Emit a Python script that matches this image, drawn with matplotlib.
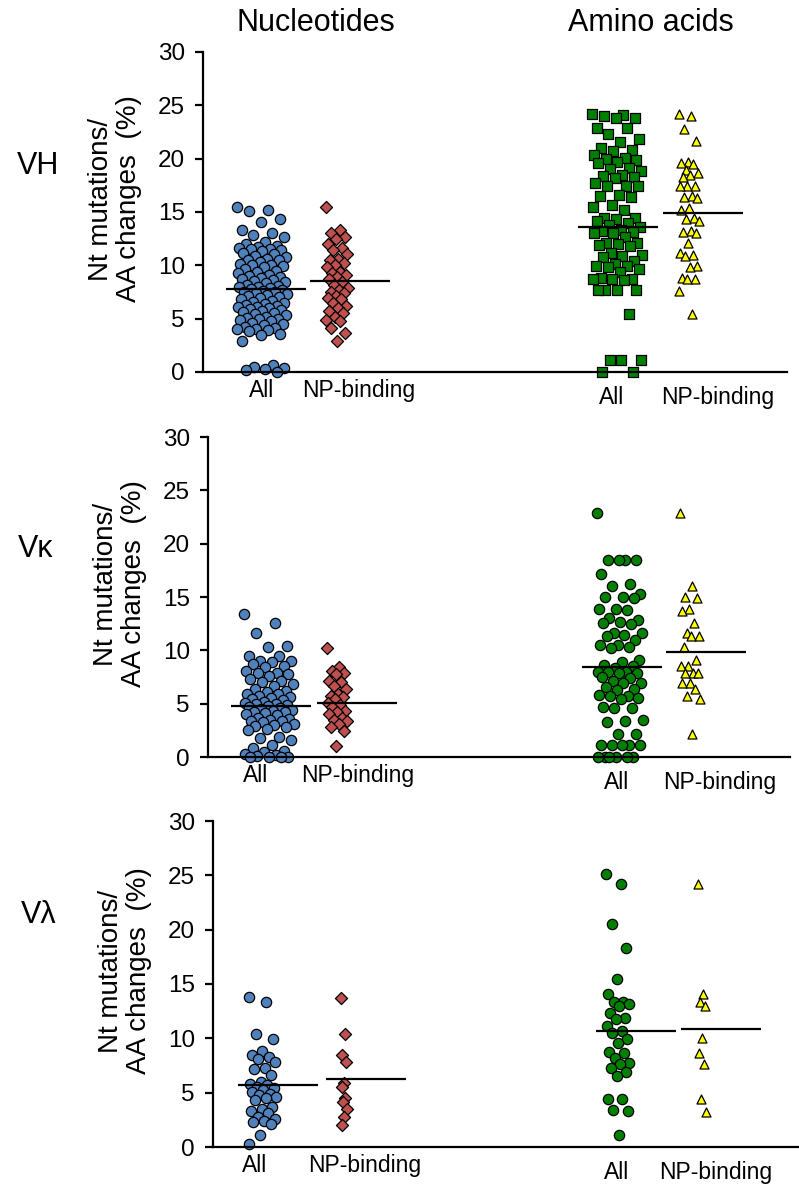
import numpy as np
import matplotlib
matplotlib.use('Agg')
import matplotlib.pyplot as plt

plt.rcParams['font.family'] = ['Liberation Sans', 'DejaVu Sans']

# ---- data ----
groups = ['All', 'NP-binding', 'All', 'NP-binding']
col_titles = ['Nucleotides', 'Amino acids']
row_labels = ['VH', 'V\u03ba', 'V\u03bb']
ylabel = 'Nt mutations/\nAA changes  (%)'

vh_nt_all = [15.5, 15.2, 15.1, 14.3, 14.1, 13.3, 13.0, 12.8, 12.7, 12.2, 12.0, 11.8,
             11.7, 11.6, 11.5, 11.5, 11.4, 11.3, 11.2, 11.1, 10.9, 10.8, 10.6, 10.5,
             10.5, 10.3, 10.1, 10.0, 10.0, 9.9, 9.8, 9.7, 9.5, 9.4, 9.3, 9.1, 9.0,
             8.9, 8.8, 8.7, 8.6, 8.5, 8.4, 8.3, 8.2, 8.1, 8.0, 8.0, 7.9, 7.8, 7.7,
             7.6, 7.5, 7.5, 7.4, 7.3, 7.2, 7.1, 7.0, 6.9, 6.8, 6.7, 6.6, 6.5, 6.4,
             6.3, 6.2, 6.1, 6.1, 6.0, 5.9, 5.8, 5.7, 5.6, 5.5, 5.4, 5.3, 5.2, 5.1,
             5.0, 5.0, 4.9, 4.8, 4.6, 4.5, 4.4, 4.2, 4.1, 4.0, 4.0, 3.9, 3.8, 3.6,
             3.5, 2.9, 0.7, 0.5, 0.4, 0.3, 0.2, 0.0]
vh_nt_np = [15.5, 13.3, 13.0, 12.7, 12.5, 12.0, 11.6, 11.4, 11.1, 10.6, 10.5, 10.2,
            10.0, 9.8, 9.4, 9.3, 9.1, 8.9, 8.7, 8.4, 8.2, 7.9, 7.7, 7.5, 7.4, 7.1,
            6.9, 6.8, 6.5, 6.2, 6.0, 5.7, 5.5, 5.2, 4.9, 4.8, 4.1, 3.7, 2.9]
vh_aa_all = [24.2, 24.1, 24.0, 23.8, 23.8, 22.9, 22.9, 22.3, 21.8, 21.6, 21.0, 20.8,
             20.7, 20.3, 20.1, 20.0, 19.9, 19.7, 19.6, 19.1, 19.0, 18.8, 18.5, 18.4,
             18.3, 18.2, 17.7, 17.4, 17.4, 17.4, 16.6, 16.5, 16.4, 15.7, 15.5, 15.2,
             14.4, 14.4, 14.3, 14.2, 14.0, 13.8, 13.6, 13.3, 13.2, 13.1, 13.0, 13.0,
             12.7, 12.1, 12.1, 12.0, 11.9, 11.8, 11.2, 11.0, 10.9, 10.8, 10.4, 10.1,
             9.9, 9.9, 9.8, 9.7, 9.4, 8.8, 8.7, 8.7, 8.7, 8.6, 7.7, 7.7, 7.7, 7.7,
             5.4, 1.1, 1.1, 1.1, 0.0, 0.0]
vh_aa_np = [24.2, 24.0, 22.8, 21.7, 19.7, 19.6, 19.5, 18.9, 18.7, 18.5, 18.3, 17.4,
            17.4, 17.4, 16.5, 16.4, 16.3, 15.4, 15.2, 14.4, 14.3, 14.2, 13.2, 13.1,
            13.0, 12.1, 11.2, 11.0, 10.9, 9.9, 9.8, 8.8, 8.7, 8.7, 7.6, 5.4]
vh_means = [7.8, 8.5, 13.6, 14.9]

vk_nt_all = [13.4, 12.6, 11.6, 10.4, 10.3, 9.5, 9.5, 9.0, 9.0, 8.9, 8.7, 8.5, 8.4,
             8.1, 7.9, 7.9, 7.8, 7.6, 7.3, 7.1, 7.0, 6.8, 6.7, 6.4, 6.2, 6.1, 5.9,
             5.9, 5.7, 5.6, 5.5, 5.4, 5.3, 5.2, 5.1, 5.0, 5.0, 4.9, 4.8, 4.7, 4.6,
             4.5, 4.4, 4.3, 4.2, 4.2, 4.1, 4.0, 3.9, 3.7, 3.6, 3.5, 3.4, 3.4, 3.3,
             3.1, 3.0, 2.9, 2.8, 2.6, 2.5, 1.9, 1.8, 1.6, 1.1, 0.8, 0.6, 0.5, 0.3,
             0.2, 0.1, 0.0, 0.0, 0.0, 0.0]
vk_nt_np = [10.2, 8.4, 8.1, 7.9, 7.8, 7.1, 7.0, 6.7, 6.4, 5.9, 5.7, 5.6, 5.4, 5.1,
            4.9, 4.7, 4.3, 4.2, 4.0, 3.7, 3.5, 3.4, 3.1, 2.8, 2.4, 1.0]
vk_aa_all = [22.9, 18.5, 18.5, 18.5, 18.5, 17.2, 16.2, 16.0, 15.3, 15.0, 15.0, 14.9,
             13.9, 13.9, 13.8, 13.0, 12.8, 12.7, 12.6, 12.5, 11.6, 11.6, 11.4, 11.3,
             11.0, 10.5, 10.5, 10.3, 10.2, 9.1, 8.9, 8.6, 8.5, 8.3, 8.0, 8.0, 8.0,
             7.9, 7.9, 7.5, 7.4, 7.1, 6.9, 6.9, 6.6, 6.4, 6.3, 5.8, 5.7, 5.7, 5.5,
             5.4, 4.7, 4.6, 4.6, 3.5, 3.4, 3.3, 2.2, 2.2, 1.1, 1.1, 1.1, 1.1, 1.1,
             0.0, 0.0, 0.0, 0.0, 0.0, 0.0]
vk_aa_np = [22.9, 16.0, 15.0, 14.9, 13.9, 13.7, 12.6, 11.6, 11.3, 11.3, 10.3, 9.1,
            8.5, 8.5, 7.9, 7.9, 7.9, 6.9, 6.9, 6.4, 5.7, 5.4, 2.2]
vk_means = [4.8, 5.1, 8.4, 9.8]

vl_nt_all = [13.8, 13.3, 10.4, 9.9, 8.8, 8.5, 8.3, 8.1, 7.8, 7.3, 7.2, 6.6, 6.0,
             5.8, 5.7, 5.5, 5.4, 5.2, 5.1, 4.9, 4.75, 4.6, 4.5, 4.3, 3.7, 3.5, 3.3,
             3.1, 2.8, 2.6, 2.4, 2.3, 2.1, 1.1, 0.25]
vl_nt_np = [13.7, 10.4, 8.5, 7.8, 5.9, 5.5, 4.5, 4.1, 3.5, 2.8, 2.0]
vl_aa_all = [25.1, 24.2, 20.5, 18.3, 15.5, 14.1, 13.3, 13.3, 13.2, 13.0, 12.3, 11.9,
             11.8, 11.1, 10.7, 10.5, 9.9, 9.6, 8.7, 8.65, 8.2, 7.7, 7.6, 7.3, 6.9,
             6.5, 4.4, 4.4, 3.4, 3.3, 1.1]
vl_aa_np = [24.2, 14.1, 13.3, 13.0, 10.0, 8.65, 7.6, 4.4, 3.2]
vl_means = [5.7, 6.3, 10.7, 10.9]

panels = [
    (vh_nt_all, vh_nt_np, vh_aa_all, vh_aa_np, vh_means),
    (vk_nt_all, vk_nt_np, vk_aa_all, vk_aa_np, vk_means),
    (vl_nt_all, vl_nt_np, vl_aa_all, vl_aa_np, vl_means),
]

# ---- layout (figure pixels) ----
W, H = 799, 1185
# spine x, right end, y of 0, y of 30
frames = [(203, 787, 372, 52), (208, 790, 757, 437), (213, 799, 1147, 821)]
pt_x = [[262, 337, 617, 689], [269, 337, 620, 690], [263, 344, 618, 702]]
mean_x = [[266, 350, 618, 703], [271, 357, 622, 706], [278, 366, 636, 721]]
jit = [[25, 11, 25, 10], [25, 10, 23, 10], [14, 3, 12, 4]]
lab_x = [[262, 359, 612, 718], [256, 358, 617, 720], [255, 365, 617, 716]]
row_xy = [(38, 166), (36, 549), (39, 915)]

styles = [
    dict(marker='o', c='#4F81BD', s=55),
    dict(marker='D', c='#C0504D', s=38),
    dict(marker='s', c='#008000', s=48),
    dict(marker='^', c='#FFFF00', s=42),
]


def spread(n, half):
    k = np.arange(n)
    return ((k * 0.618034) % 1.0 - 0.5) * 2 * half


fig = plt.figure(figsize=(W / 100, H / 100), dpi=100)

for p, data in enumerate(panels):
    x0, x1, yb, yt = frames[p]
    ax = fig.add_axes([x0 / W, 1 - yb / H, (x1 - x0) / W, (yb - yt) / H])
    ax.set_xlim(x0, x1)
    ax.set_ylim(0, 30)
    for g in range(4):
        vals = np.array(data[g])
        st = dict(styles[g])
        if p > 0 and g == 2:
            st['marker'] = 'o'
            st['s'] = 55
        xs = pt_x[p][g] + spread(len(vals), jit[p][g])
        ax.scatter(xs, vals, edgecolors='black', linewidths=0.9, zorder=2,
                   clip_on=False, **st)
        m = data[4][g]
        ax.plot([mean_x[p][g] - 40, mean_x[p][g] + 40], [m, m], color='black',
                lw=1.6, zorder=3, solid_capstyle='butt')

    for s in ['top', 'right']:
        ax.spines[s].set_visible(False)
    for s in ['left', 'bottom']:
        ax.spines[s].set_linewidth(1.6)
    ax.set_yticks(range(0, 31, 5))
    ax.tick_params(axis='y', direction='out', length=6, width=1.6, labelsize=17.5, pad=7)
    ax.set_xticks(lab_x[p][:2], groups[:2])
    ax.set_xticks(lab_x[p][2:], groups[2:], minor=True)
    ax.tick_params(axis='x', which='major', length=0, labelsize=16.5, pad=5)
    ax.tick_params(axis='x', which='minor', length=0, labelsize=16.5, pad=10)

    ax.text(x0 - 88, 15 + 13 * 30 / (yb - yt), ylabel, rotation=90, ha='center',
            va='center', multialignment='center', fontsize=20, linespacing=1.12)
    fig.text(row_xy[p][0] / W, 1 - row_xy[p][1] / H, row_labels[p], ha='center',
             va='center', fontsize=22)

fig.text(316 / W, 1 - 23 / H, col_titles[0], ha='center', va='center', fontsize=22)
fig.text(651 / W, 1 - 23 / H, col_titles[1], ha='center', va='center', fontsize=22)

fig.savefig('out.png', dpi=100)
